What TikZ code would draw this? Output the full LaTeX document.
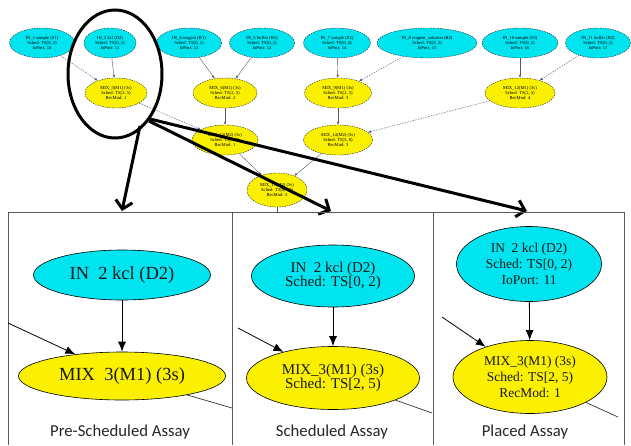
\documentclass[tikz,border=0pt]{standalone}
\usepackage{fontspec}
\setmainfont{Liberation Serif}
\newfontfamily\labelfont{Carlito}
\usetikzlibrary{shapes.geometric,arrows.meta}
\definecolor{nodecyan}{RGB}{0,228,240}
\definecolor{nodeyellow}{RGB}{250,240,0}
\definecolor{framegray}{RGB}{90,90,90}
\definecolor{edgeblue}{RGB}{80,80,130}
\begin{document}
\begin{tikzpicture}[x=1pt,y=-1pt,
  tinynode/.style={ellipse, draw=black!85, dash pattern=on 1.5pt off 1pt, line width=0.4pt,
    inner sep=0pt, minimum height=30pt, align=center, font=\fontsize{4.6}{5.2}\selectfont},
  tinycyan/.style={tinynode, fill=nodecyan},
  tinyyellow/.style={tinynode, fill=nodeyellow},
  tinyedge/.style={draw=black!65, line width=0.4pt, -{Latex[length=3pt,width=2.5pt]}},
  tinydash/.style={tinyedge, draw=edgeblue, dash pattern=on 1.5pt off 1.2pt},
  bignode/.style={ellipse, draw=black, line width=0.6pt, inner sep=0pt, align=center, text=black!90},
  bigcyan/.style={bignode, fill=nodecyan},
  bigyellow/.style={bignode, fill=nodeyellow},
  panelarrow/.style={draw=black, line width=0.8pt, -{Latex[length=10pt,width=8pt]}},
  panelline/.style={draw=black!80, line width=0.7pt},
  hugearrow/.style={draw=black, line width=3pt, -{Straight Barb[length=8pt,width=17pt]}},
  caption/.style={anchor=base, font=\labelfont\fontsize{16.7}{18}\selectfont, text=black!85},
  frame/.style={draw=framegray, line width=1pt}
]
\useasboundingbox[fill=white] (0,0) rectangle (631,445);

% ---- top graph ----
\node[tinycyan, minimum width=65pt] (c1) at (42,43) {IN\_1 sample (S1)\\Sched: TS[0, 2)\\IoPort: 10};
\node[tinycyan, minimum width=52pt] (c2) at (110,43) {IN\_2 kcl (D2)\\Sched: TS[0, 2)\\IoPort: 11};
\node[tinycyan, minimum width=65pt] (c3) at (189,43) {IN\_4 reagent (R1)\\Sched: TS[0, 2)\\IoPort: 12};
\node[tinycyan, minimum width=65pt] (c4) at (262,43) {IN\_5 buffer (B1)\\Sched: TS[0, 2)\\IoPort: 13};
\node[tinycyan, minimum width=67pt] (c5) at (337,43) {IN\_7 sample (S2)\\Sched: TS[0, 2)\\IoPort: 14};
\node[tinycyan, minimum width=100pt] (c6) at (427,43) {IN\_8 reagent\_solution (R2)\\Sched: TS[0, 2)\\IoPort: 15};
\node[tinycyan, minimum width=76pt] (c7) at (520,43) {IN\_10 sample (S3)\\Sched: TS[0, 2)\\IoPort: 16};
\node[tinycyan, minimum width=65pt] (c8) at (598,43) {IN\_11 buffer (B2)\\Sched: TS[0, 2)\\IoPort: 17};

\node[tinyyellow, minimum width=62pt] (ya) at (116,93) {MIX\_3(M1) (3s)\\Sched: TS[2, 5)\\RecMod: 1};
\node[tinyyellow, minimum width=64pt] (yb) at (225,93) {MIX\_6(M1) (3s)\\Sched: TS[2, 5)\\RecMod: 2};
\node[tinyyellow, minimum width=67pt] (yc) at (338,93) {MIX\_9(M1) (3s)\\Sched: TS[2, 5)\\RecMod: 3};
\node[tinyyellow, minimum width=70pt] (yd) at (520,93) {MIX\_12(M1) (3s)\\Sched: TS[2, 5)\\RecMod: 4};
\node[tinyyellow, minimum width=66pt] (ye) at (225,140) {MIX\_13(M2) (3s)\\Sched: TS[5, 8)\\RecMod: 1};
\node[tinyyellow, minimum width=69pt] (yf) at (338,140) {MIX\_14(M2) (3s)\\Sched: TS[5, 8)\\RecMod: 3};
\node[tinyyellow, minimum width=60pt, minimum height=34pt] (yg) at (277,190) {MIX\_15(M3) (5s)\\Sched: TS[8, 13)\\RecMod: 2};
\coordinate (gout) at (277,212);

\draw[tinydash] (c1) -- (ya);
\draw[tinyedge] (c2) -- (ya);
\draw[tinyedge] (c3) -- (yb);
\draw[tinyedge] (c4) -- (yb);
\draw[tinyedge] (c5) -- (yc);
\draw[tinydash] (c6) -- (yc);
\draw[tinyedge] (c7) -- (yd);
\draw[tinydash] (c8) -- (yd);
\draw[tinydash] (ya) -- (ye);
\draw[tinyedge] (yb) -- (ye);
\draw[tinyedge] (yc) -- (yf);
\draw[tinydash] (yd) -- (yf);
\draw[tinyedge] (ye) -- (yg);
\draw[tinyedge] (yf) -- (yg);
\draw[draw=black!65, line width=0.4pt] (yg) -- (gout);

% ---- highlight ellipse and big arrows ----
\draw[line width=3pt] (115,74) ellipse [x radius=47, y radius=64];
\coordinate (s1) at (140,126);
\coordinate (s2) at (149,121);
\coordinate (s3) at (150,119);
\coordinate (t1) at (122,211);
\coordinate (t2) at (331,211);
\coordinate (t3) at (527,211);
\draw[hugearrow] (s1) -- (t1);
\draw[hugearrow] (s2) -- (t2);
\draw[hugearrow] (s3) -- (t3);

% ---- panels ----
\draw[frame] (8,445) -- (8,212) -- (624,212) -- (624,445);
\draw[frame] (232,212) -- (232,445);
\draw[frame] (433,212) -- (433,445);

% panel 1
\node[bigcyan, minimum width=177pt, minimum height=50pt, font=\fontsize{18.5}{20}\selectfont] (p1in) at (122,275) {IN\ \ 2 kcl (D2)};
\node[bigyellow, minimum width=207pt, minimum height=48pt, font=\fontsize{18.5}{20}\selectfont] (p1mx) at (122,376) {MIX\ \ 3(M1) (3s)};
\coordinate (p1a) at (8,323);
\coordinate (p1b) at (232,408);
\draw[panelarrow] (p1in) -- (p1mx);
\draw[panelarrow] (p1a) -- (p1mx);
\draw[panelline] (p1mx) -- (p1b);
\node[caption] (cap1) at (120,436) {Pre-Scheduled Assay};

% panel 2
\node[bigcyan, minimum width=163pt, minimum height=62pt, font=\fontsize{15}{13.5}\selectfont] (p2in) at (333,276) {IN\ \ 2 kcl (D2)\\Sched: TS[0, 2)};
\node[bigyellow, minimum width=173pt, minimum height=63pt, font=\fontsize{15}{13.5}\selectfont] (p2mx) at (333,378) {MIX\_3(M1) (3s)\\Sched: TS[2, 5)};
\coordinate (p2a) at (238,328);
\coordinate (p2b) at (432,413);
\draw[panelarrow] (p2in) -- (p2mx);
\draw[panelarrow] (p2a) -- (p2mx);
\draw[panelline] (p2mx) -- (p2b);
\node[caption] (cap2) at (332,436) {Scheduled Assay};

% panel 3
\node[bigcyan, minimum width=145pt, minimum height=75pt, font=\fontsize{13.5}{16}\selectfont] (p3in) at (529,264) {IN\ \ 2 kcl (D2)\\Sched: TS[0, 2)\\IoPort: 11};
\node[bigyellow, minimum width=154pt, minimum height=73pt, font=\fontsize{13.5}{16}\selectfont] (p3mx) at (530,377) {MIX\_3(M1) (3s)\\Sched: TS[2, 5)\\RecMod: 1};
\coordinate (p3a) at (442,317);
\coordinate (p3b) at (618,417);
\draw[panelarrow] (p3in) -- (p3mx);
\draw[panelarrow] (p3a) -- (p3mx);
\draw[panelline] (p3mx) -- (p3b);
\node[caption] (cap3) at (525,436) {Placed Assay};
\end{tikzpicture}
\end{document}
